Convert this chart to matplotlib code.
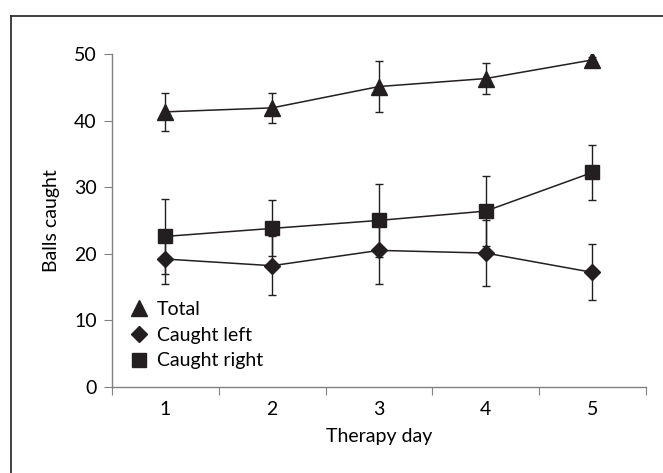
import matplotlib.pyplot as plt
from matplotlib.lines import Line2D

# Werte
days = [1, 2, 3, 4, 5]
total = [41.3, 41.9, 45.1, 46.3, 49.1]
total_err = [2.8, 2.3, 3.8, 2.3, 0.5]
left = [19.2, 18.2, 20.5, 20.1, 17.2]
left_err = [3.7, 4.4, 5.0, 4.9, 4.2]
right = [22.6, 23.8, 25.0, 26.4, 32.2]
right_err = [5.6, 4.2, 5.5, 5.2, 4.1]

labels = ["Total", "Caught left", "Caught right"]
ink = "#231f20"
axis_grey = "#808080"

plt.rcParams["font.family"] = ["Lato", "DejaVu Sans"]
plt.rcParams["font.size"] = 14

fig = plt.figure(figsize=(6.63, 4.73), dpi=100)
ax = fig.add_axes([0.169, 0.182, 0.805, 0.704])

x = [d - 0.5 for d in days]
series = [
    (total, total_err, "^", 11),
    (left, left_err, "D", 8),
    (right, right_err, "s", 10),
]
for vals, err, m, ms in series:
    ax.errorbar(x, vals, yerr=err, color=ink, marker=m, markersize=ms,
                linewidth=1.1, elinewidth=1.0, capsize=3, capthick=1.0,
                ecolor=ink)

ax.set_xlim(0, 5)
ax.set_ylim(0, 50)
ax.set_yticks([0, 10, 20, 30, 40, 50])
ax.set_xticks([0, 1, 2, 3, 4, 5])
ax.set_xticklabels([])
ax.set_xticks(x, minor=True)
ax.set_xticklabels([str(d) for d in days], minor=True)
ax.tick_params(axis="x", which="minor", length=0, pad=10)
ax.tick_params(axis="x", which="major", direction="out", length=6,
               color=axis_grey)
ax.tick_params(axis="y", direction="out", length=6, color=axis_grey, pad=5)

for s in ["top", "right"]:
    ax.spines[s].set_visible(False)
for s in ["left", "bottom"]:
    ax.spines[s].set_color(axis_grey)
    ax.spines[s].set_linewidth(1.0)

ax.set_xlabel("Therapy day", labelpad=7)
ax.set_ylabel("Balls caught", labelpad=10)

handles = [
    Line2D([], [], color=ink, marker="^", markersize=11, linestyle="none"),
    Line2D([], [], color=ink, marker="D", markersize=8, linestyle="none"),
    Line2D([], [], color=ink, marker="s", markersize=10, linestyle="none"),
]
ax.legend(handles, labels, loc="lower left", bbox_to_anchor=(0.0, 0.0),
          frameon=False, handlelength=1.0, handletextpad=0.4,
          labelspacing=0.45, borderaxespad=0.5)

# Rahmen links und oben
fig.add_artist(Line2D([11 / 663, 11 / 663], [0, 1 - 16 / 473],
                      transform=fig.transFigure, color=ink, linewidth=1.2))
fig.add_artist(Line2D([11 / 663, 1], [1 - 16 / 473, 1 - 16 / 473],
                      transform=fig.transFigure, color=ink, linewidth=1.2))

fig.savefig("out.png", dpi=100)
